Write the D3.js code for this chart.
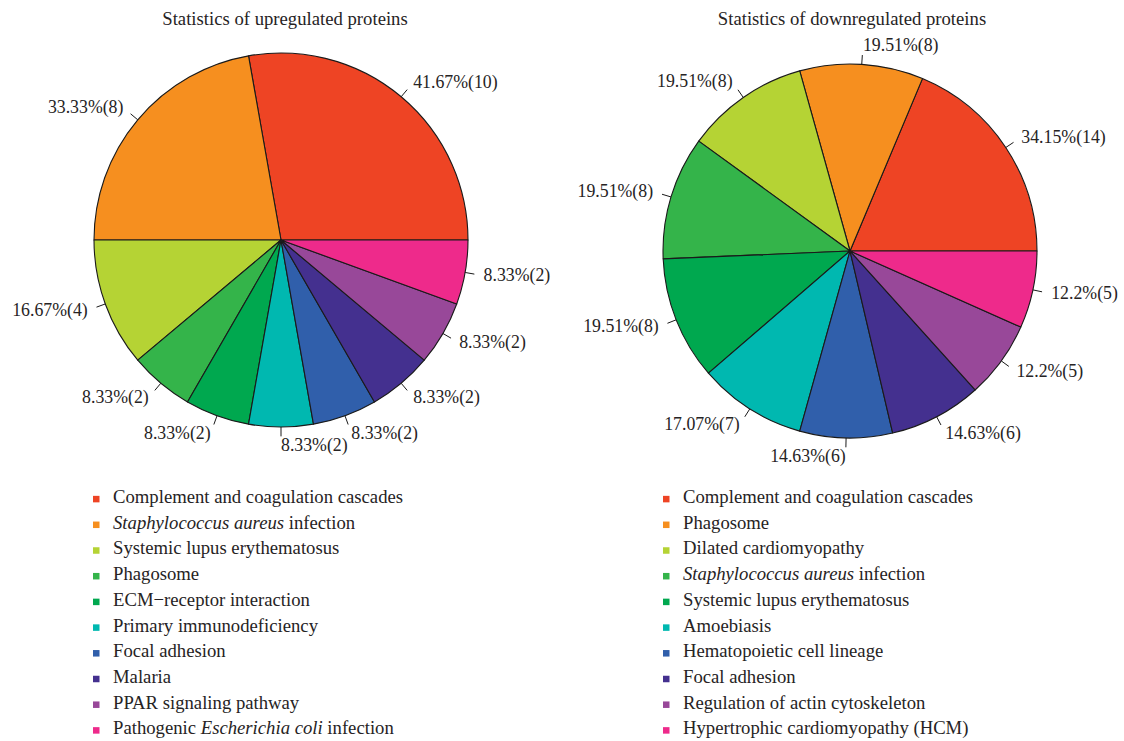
<!DOCTYPE html>
<html>
<head>
<meta charset="utf-8">
<script src="https://cdn.jsdelivr.net/npm/d3@7"></script>
<style>
  body { margin: 0; background: #fff; }
  svg text { font-family: "Liberation Serif", "DejaVu Serif", serif; fill: #262324; }
</style>
</head>
<body>
<div id="chart-area"></div>
<script>
// Slice colours, shared by both pies (same order)
const sliceColors = ['#ee4424', '#f68f1f', '#b5d334', '#34b44a', '#00a84f',
                     '#00b8b0', '#305fab', '#44308f', '#984899', '#ee2a8b'];

// Upregulated proteins
const upTitle = 'Statistics of upregulated proteins';
const upCategories = [
    'Complement and coagulation cascades',
    '*Staphylococcus aureus* infection',
    'Systemic lupus erythematosus',
    'Phagosome',
    'ECM\u2212receptor interaction',
    'Primary immunodeficiency',
    'Focal adhesion',
    'Malaria',
    'PPAR signaling pathway',
    'Pathogenic *Escherichia coli* infection'
];
const upCounts = [10, 8, 4, 2, 2, 2, 2, 2, 2, 2];
const upPercents = ['41.67', '33.33', '16.67', '8.33', '8.33', '8.33', '8.33', '8.33', '8.33', '8.33'];

// Downregulated proteins
const downTitle = 'Statistics of downregulated proteins';
const downCategories = [
    'Complement and coagulation cascades',
    'Phagosome',
    'Dilated cardiomyopathy',
    '*Staphylococcus aureus* infection',
    'Systemic lupus erythematosus',
    'Amoebiasis',
    'Hematopoietic cell lineage',
    'Focal adhesion',
    'Regulation of actin cytoskeleton',
    'Hypertrophic cardiomyopathy (HCM)'
];
const downCounts = [14, 8, 8, 8, 8, 7, 6, 6, 5, 5];
const downPercents = ['34.15', '19.51', '19.51', '19.51', '19.51', '17.07', '14.63', '14.63', '12.2', '12.2'];

const WIDTH = 1124;
const HEIGHT = 741;
const RADIUS = 187;

const svg = d3.select('#chart-area').append('svg')
    .attr('width', WIDTH)
    .attr('height', HEIGHT);

function drawPanel(opts) {
    const g = svg.append('g');

    // Title
    g.append('text')
        .attr('x', opts.titleX)
        .attr('y', 25)
        .attr('text-anchor', 'middle')
        .attr('font-size', '18.7px')
        .text(opts.title);

    const data = opts.counts.map((c, i) => ({
        count: c, pct: opts.percents[i], name: opts.categories[i], color: sliceColors[i]
    }));

    // Counter-clockwise from 3 o'clock, like R's pie()
    const pie = d3.pie()
        .sort(null)
        .value(d => d.count)
        .startAngle(Math.PI / 2)
        .endAngle(Math.PI / 2 - 2 * Math.PI);

    const arc = d3.arc().innerRadius(0).outerRadius(RADIUS);

    const pieG = g.append('g')
        .attr('transform', `translate(${opts.cx}, ${opts.cy})`);

    const arcs = pie(data);

    pieG.selectAll('path')
        .data(arcs)
        .enter()
        .append('path')
        .attr('d', arc)
        .attr('fill', d => d.data.color)
        .attr('stroke', '#1a1a1a')
        .attr('stroke-width', 1.1)
        .attr('stroke-linejoin', 'round');

    // Tick lines and labels
    const mid = d => (d.startAngle + d.endAngle) / 2;
    pieG.selectAll('line.tick')
        .data(arcs)
        .enter()
        .append('line')
        .attr('class', 'tick')
        .attr('x1', d => Math.sin(mid(d)) * RADIUS)
        .attr('y1', d => -Math.cos(mid(d)) * RADIUS)
        .attr('x2', d => Math.sin(mid(d)) * RADIUS * 1.05)
        .attr('y2', d => -Math.cos(mid(d)) * RADIUS * 1.05)
        .attr('stroke', '#1a1a1a')
        .attr('stroke-width', 1);

    pieG.selectAll('text.lbl')
        .data(arcs)
        .enter()
        .append('text')
        .attr('class', 'lbl')
        .attr('x', d => Math.sin(mid(d)) * RADIUS * 1.1)
        .attr('y', d => -Math.cos(mid(d)) * RADIUS * 1.1)
        .attr('dy', '0.3em')
        .attr('text-anchor', d => Math.sin(mid(d)) > -1e-6 ? 'start' : 'end')
        .attr('font-size', '17.8px')
        .text(d => `${d.data.pct}%(${d.data.count})`);

    // Legend
    const legendY = d3.scaleBand()
        .domain(d3.range(data.length))
        .range([484, 741]);

    const rows = g.selectAll('g.legend')
        .data(data)
        .enter()
        .append('g')
        .attr('class', 'legend')
        .attr('transform', (d, i) => `translate(${opts.legendX}, ${legendY(i) + legendY.bandwidth() / 2})`);

    rows.append('rect')
        .attr('x', 0)
        .attr('y', -1)
        .attr('width', 6.5)
        .attr('height', 6.5)
        .attr('fill', d => d.color);

    rows.append('text')
        .attr('x', 20)
        .attr('y', 0)
        .attr('dy', '0.33em')
        .attr('font-size', '18.7px')
        .each(function (d) {
            // *...* marks italic parts
            const parts = d.name.split('*');
            const t = d3.select(this);
            parts.forEach((p, k) => {
                if (!p) return;
                t.append('tspan')
                    .attr('font-style', k % 2 === 1 ? 'italic' : 'normal')
                    .text(p);
            });
        });
}

drawPanel({
    title: upTitle, categories: upCategories, counts: upCounts, percents: upPercents,
    cx: 281, cy: 240, titleX: 285, legendX: 93
});

drawPanel({
    title: downTitle, categories: downCategories, counts: downCounts, percents: downPercents,
    cx: 850, cy: 251, titleX: 852, legendX: 663
});
</script>
</body>
</html>
